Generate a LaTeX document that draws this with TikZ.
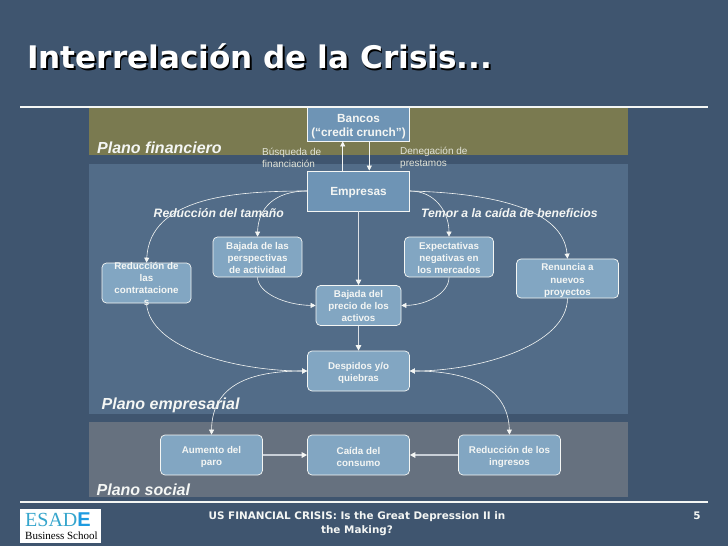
\documentclass[tikz,border=0pt]{standalone}
\usepackage{fontspec}
\setmainfont{Liberation Sans}
\newfontfamily\verd{DejaVu Sans}
\newfontfamily\serifl{Liberation Serif}
\usetikzlibrary{arrows.meta}
\newcommand\lowerby[1]{\rule{0pt}{#1}}
\definecolor{bgc}{HTML}{3F556F}
\definecolor{olive}{HTML}{7A7A50}
\definecolor{emp}{HTML}{526C88}
\definecolor{soc}{HTML}{66717F}
\definecolor{boxa}{HTML}{6E94B5}
\definecolor{boxb}{HTML}{82A6C2}
\definecolor{wht}{HTML}{F4F6F4}
\definecolor{cre}{HTML}{E2E4D8}
\definecolor{esad}{HTML}{35A5CC}
\definecolor{esadb}{HTML}{1E9BE0}
\tikzset{
 x=1pt,y=-1pt,
 sq/.style={draw=wht,line width=.8pt,fill=boxa,text=wht,align=center,font=\fontsize{11.8}{14}\selectfont\bfseries,inner sep=0pt},
 rd/.style={draw=wht,line width=.7pt,fill=boxb,text=wht,rounded corners=4.5pt,align=center,font=\fontsize{9.8}{12}\selectfont\bfseries,inner sep=0pt},
 link/.style={draw=wht,line width=.6pt,-{Triangle[length=5pt,width=5pt]}},
 soft/.style={draw=white!72!bgc,line width=1.4pt,-{Triangle[length=5.5pt,width=5.5pt,color=wht]}},
 softb/.style={draw=white!82!bgc,line width=1pt,-{Triangle[length=5.5pt,width=5.5pt,color=wht]}},
 plano/.style={text=wht,font=\fontsize{16}{18}\selectfont\bfseries\itshape,anchor=west,inner sep=0pt},
 sub/.style={text=wht,font=\fontsize{12.2}{14}\selectfont\bfseries\itshape,anchor=west,inner sep=0pt},
 note/.style={text=cre,font=\fontsize{10}{12}\selectfont,align=left,anchor=west,inner sep=0pt},
}
\begin{document}
\begin{tikzpicture}
\useasboundingbox (0,0) rectangle (728,546);
\fill[bgc] (0,0) rectangle (728,546);
% bands
\fill[olive] (89,107) rectangle (627.5,155);
\fill[emp] (89,163.5) rectangle (627.5,414);
\fill[soc] (89,422) rectangle (627.5,497);
% rules
\draw[wht,line width=1.8pt] (20,106.7) -- (708,106.7);
\draw[wht,line width=1.8pt] (20,501.7) -- (708,501.7);
% title
\node[anchor=west,inner sep=0pt,text=black,font=\verd\fontsize{31.1}{36}\selectfont\bfseries] at (28.5,58) {Interrelación de la Crisis...};
\node[anchor=west,inner sep=0pt,text=white,font=\verd\fontsize{31.1}{36}\selectfont\bfseries] (title) at (27,56.5) {Interrelación de la Crisis...};
% plane labels
\node[plano] (pf) at (97,148) {Plano financiero};
\node[plano] (pe) at (101.5,405.5) {Plano empresarial};
\node[plano] (ps) at (96.5,489.5) {Plano social};
\node[sub] (rt) at (153.5,213) {Reducción del tamaño};
\node[sub] (tc) at (421,213) {Temor a la caída de beneficios};
\node[note] (bf) at (262,157.5) {Búsqueda de\\financiación};
\node[note] (dp) at (400,157.5) {Denegación de\\prestamos};
% nodes
\node[sq,minimum width=102pt,minimum height=34pt] (ban) at (358.5,124) {\lowerby{13pt}Bancos\\(“credit crunch”)};
\node[sq,minimum width=102pt,minimum height=40pt] (em) at (358.5,191) {\lowerby{12pt}Empresas};
\node[rd,minimum width=89pt,minimum height=40pt] (bp) at (257.5,257) {\lowerby{9.5pt}Bajada de las\\perspectivas\\de actividad};
\node[rd,minimum width=89pt,minimum height=40pt] (ex) at (449,257) {\lowerby{9.5pt}Expectativas\\negativas en\\los mercados};
\node[rd,minimum width=89pt,minimum height=40pt] (rc) at (146.5,283) {};
\node[text=wht,align=center,font=\fontsize{9.8}{12}\selectfont\bfseries,inner sep=0pt] (rct) at (146.5,284) {Reducción de\\las\\contratacione\\s};
\node[rd,minimum width=102pt,minimum height=39pt,font=\fontsize{9.8}{12.5}\selectfont\bfseries] (rn) at (567.5,278.5) {\lowerby{12pt}Renuncia a\\nuevos\\proyectos};
\node[rd,minimum width=85pt,minimum height=40pt] (ba) at (358.5,305.5) {Bajada del\\precio de los\\activos};
\node[rd,minimum width=102pt,minimum height=40pt] (de) at (358.5,371) {\lowerby{10.5pt}Despidos y/o\\quiebras};
\node[rd,minimum width=102pt,minimum height=40pt] (au) at (211.5,455) {\lowerby{10.5pt}Aumento del\\paro};
\node[rd,minimum width=102pt,minimum height=40pt] (ca) at (358.5,455) {\lowerby{10.5pt}Caída del\\consumo};
\node[rd,minimum width=102pt,minimum height=40pt] (ri) at (509.5,455) {\lowerby{10.5pt}Reducción de los\\ingresos};
% connectors
\draw[link] (em.north -| 342.7,0) -- (ban.south -| 342.7,0);
\draw[link] (ban.south -| 369.3,0) -- (em.north -| 369.3,0);
\draw[softb] (em.south) -- (ba.north);
\draw[softb] (ba.south) -- (de.north);
\draw[link] (em.west) .. controls (235,191) and (150,197) .. (rc.north);
\draw[link] (em.west) .. controls (275,191) and (258,208) .. (bp.north);
\draw[link] (em.east) .. controls (435,191) and (449,212) .. (ex.north);
\draw[link] (em.east) .. controls (490,193) and (563,208) .. (rn.north);
\draw[link] (bp.south) .. controls (258,293) and (285,305) .. (ba.west);
\draw[link] (ex.south) .. controls (449,293) and (427,305) .. (ba.east);
\draw[link] (rc.south) .. controls (150,350) and (240,371) .. (de.west);
\draw[link] (rn.south) .. controls (567,345) and (480,371) .. (de.east);
\draw[link,{Triangle[length=5pt,width=5pt]}-{Triangle[length=5pt,width=5pt]}] (de.west) .. controls (250,371) and (212,385) .. (au.north);
\draw[link,{Triangle[length=5pt,width=5pt]}-{Triangle[length=5pt,width=5pt]}] (de.east) .. controls (465,371) and (508,385) .. (ri.north);
\draw[soft] (au.east) -- (ca.west);
\draw[soft] (ri.west) -- (ca.east);
% footer
\node[text=wht,align=center,inner sep=0pt,font=\verd\fontsize{10.4}{13.7}\selectfont\bfseries] (ft) at (357,523.5) {US FINANCIAL CRISIS: Is the Great Depression II in\\the Making?};
\node[text=wht,inner sep=0pt,font=\verd\fontsize{10.4}{13}\selectfont\bfseries] (pg) at (697,515.5) {5};
% logo
\fill[white] (20,509) rectangle (101,543);
\node[anchor=west,inner sep=0pt,text=esad,font=\serifl\fontsize{20}{20}\selectfont] (lg1) at (25,520) {ESAD\textcolor{esadb}{\bfseries\rmfamily E}};
\node[anchor=west,inner sep=0pt,text=black,font=\serifl\fontsize{11}{11}\selectfont] (lg2) at (25,535.5) {Business School};
\end{tikzpicture}
\end{document}
